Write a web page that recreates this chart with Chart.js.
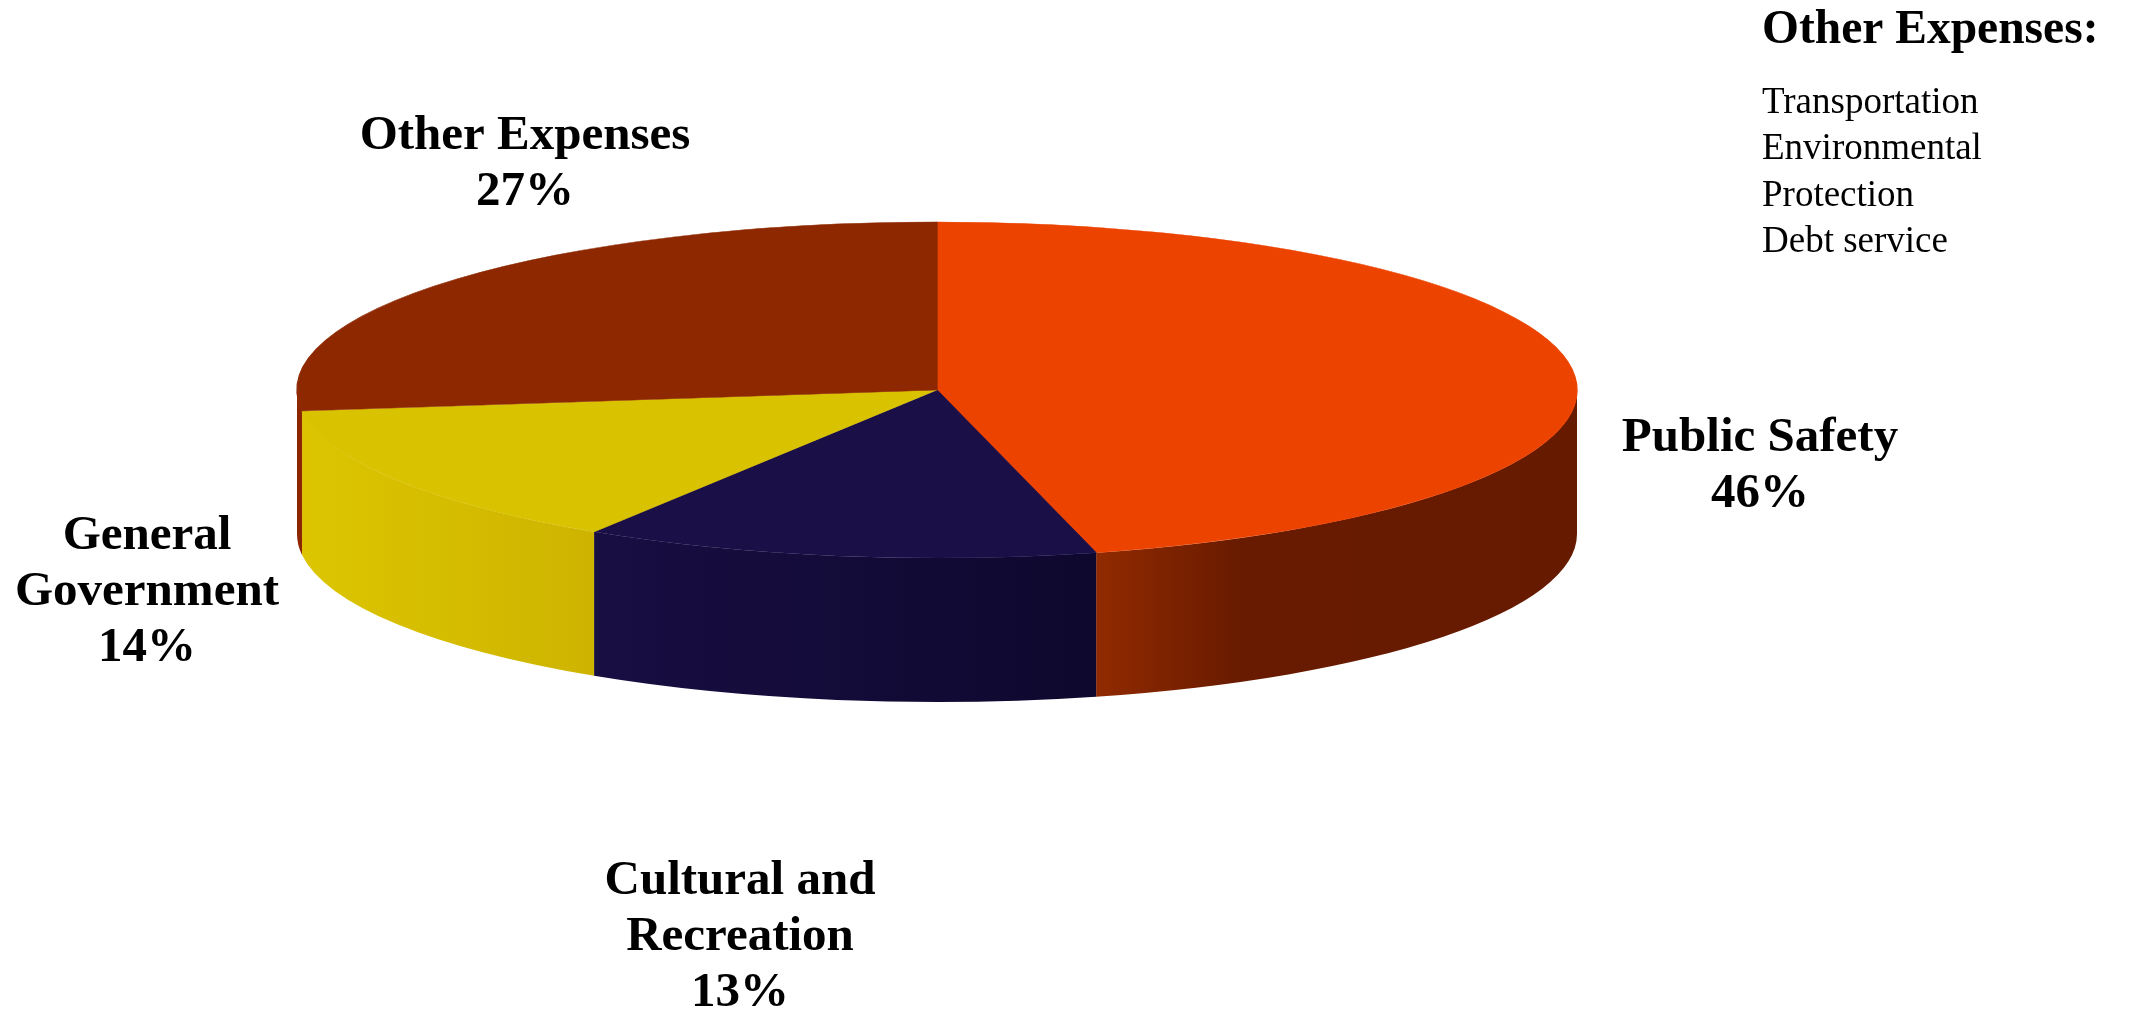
<!DOCTYPE html>
<html><head><meta charset="utf-8">
<script src="https://cdn.jsdelivr.net/npm/chart.js@4/dist/chart.umd.min.js"></script>
<style>html,body{margin:0;padding:0;background:#fff;overflow:hidden}#wrap{width:2129px;height:1011px;position:relative}canvas{display:block}</style>
</head><body><div id="wrap"><canvas id="c" width="2129" height="1011"></canvas></div>
<script>
// ---- data ----
const categories = ['Public Safety', 'Cultural and Recreation', 'General Government', 'Other Expenses'];
const shares = [46, 13, 14, 27];
const labelLines = [['Public Safety'], ['Cultural and', 'Recreation'], ['General', 'Government'], ['Other Expenses']];
const otherTitle = 'Other Expenses:';
const otherExpenseItems = ['Transportation', 'Environmental', 'Protection', 'Debt service'];

// ---- styles / layout ----
const topColors = ['#ec4400', '#1b0f48', '#d9c200', '#8e2800'];
const wallStops = [
  [[0, '#912a00'], [0.3, '#681b00'], [1, '#661a00']],
  [[0, '#180e42'], [1, '#0e082e']],
  [[0, '#dcc500'], [1, '#ceb400']],
  [[0, '#8c2600'], [1, '#8c2600']]
];
const GEOM = {cx: 937, cy: 390, rx: 640, ry: 168, depth: 144};
const labelPos = [{x: 1760, y: 438}, {x: 740, y: 881}, {x: 147, y: 536}, {x: 525, y: 136}];
const LINE_H = 56;
const LABEL_FONT = 'bold 49px "Liberation Serif", "Times New Roman", serif';
const NOTE_TITLE_FONT = 'bold 47.5px "Liberation Serif", "Times New Roman", serif';
const NOTE_FONT = '37px "Liberation Serif", "Times New Roman", serif';
const NOTE_X = 1762, NOTE_TITLE_Y = 43, NOTE_Y0 = 113, NOTE_LH = 46.3;

const pie3d = {
  id: 'pie3d',
  beforeDatasetsDraw(chart) {
    const ctx = chart.ctx;
    const meta = chart.getDatasetMeta(0);
    const {cx, cy, rx, ry, depth} = GEOM;
    // side walls (front half only)
    meta.data.forEach((arc, i) => {
      const a = Math.max(arc.startAngle, 0), b = Math.min(arc.endAngle, Math.PI);
      if (b <= a) return;
      const xa = cx + rx * Math.cos(a), xb = cx + rx * Math.cos(b);
      const g = ctx.createLinearGradient(Math.min(xa, xb), 0, Math.max(xa, xb), 0);
      wallStops[i].forEach(s => g.addColorStop(s[0], s[1]));
      ctx.save();
      ctx.fillStyle = g;
      ctx.beginPath();
      ctx.ellipse(cx, cy, rx, ry, 0, a, b, false);
      ctx.ellipse(cx, cy + depth, rx, ry, 0, b, a, true);
      ctx.closePath();
      ctx.fill();
      ctx.restore();
    });
    // squash the library's pie into the top face ellipse
    const arc0 = meta.data[0];
    const r = arc0.outerRadius;
    ctx.save();
    ctx.translate(cx, cy);
    ctx.scale(rx / r, ry / r);
    ctx.translate(-arc0.x, -arc0.y);
  },
  afterDatasetsDraw(chart) {
    const ctx = chart.ctx;
    ctx.restore();
    const meta = chart.getDatasetMeta(0);
    const total = shares.reduce((s, v) => s + v, 0);
    ctx.save();
    ctx.fillStyle = '#000';
    ctx.textAlign = 'center';
    ctx.textBaseline = 'middle';
    ctx.font = LABEL_FONT;
    meta.data.forEach((arc, i) => {
      const lines = labelLines[i].concat([Math.round(shares[i] / total * 100) + '%']);
      lines.forEach((t, k) => ctx.fillText(t, labelPos[i].x, labelPos[i].y + k * LINE_H));
    });
    ctx.textAlign = 'left';
    ctx.textBaseline = 'alphabetic';
    ctx.font = NOTE_TITLE_FONT;
    ctx.fillText(otherTitle, NOTE_X, NOTE_TITLE_Y);
    ctx.font = NOTE_FONT;
    otherExpenseItems.forEach((t, k) => ctx.fillText(t, NOTE_X, NOTE_Y0 + k * NOTE_LH));
    ctx.restore();
  }
};

new Chart(document.getElementById('c'), {
  type: 'pie',
  data: {
    labels: categories,
    datasets: [{
      data: shares,
      backgroundColor: topColors,
      borderColor: topColors,
      borderWidth: 1,
      clip: false
    }]
  },
  options: {
    responsive: false,
    animation: false,
    events: [],
    rotation: 0,
    plugins: {legend: {display: false}, tooltip: {enabled: false}}
  },
  plugins: [pie3d]
});
</script>
</body></html>
